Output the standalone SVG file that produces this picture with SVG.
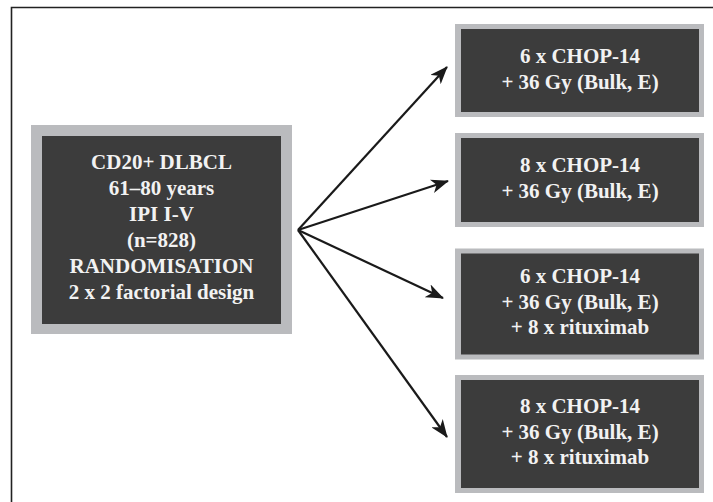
<svg xmlns="http://www.w3.org/2000/svg" width="713" height="502" viewBox="0 0 713 502">
<defs>
<style>
.outer{fill:#babbbe;}
.inner{fill:#3c3c3c;}
.t{font-family:"Liberation Serif","Times New Roman",serif;font-weight:bold;font-size:21px;fill:#f2f2f2;text-anchor:middle;}
.frame{stroke:#222;stroke-width:1.6;fill:none;}
.conn{stroke:#1a1a1a;stroke-width:2.2;fill:none;}
</style>
<marker id="ah" viewBox="0 0 18 14" refX="17" refY="7" markerWidth="18" markerHeight="14" markerUnits="userSpaceOnUse" orient="auto">
<path d="M0,0 L18,7 L0,14 L5,7 Z" fill="#1a1a1a"/>
</marker>
</defs>
<rect width="713" height="502" fill="#fff"/>
<path class="frame" d="M11.5,502 V7.5 H713"/>

<g id="start">
<rect class="outer" x="31" y="125" width="261" height="209"/>
<rect class="inner" x="42" y="136" width="239" height="188"/>
<text class="t" x="161.5" y="168.5">CD20+ DLBCL</text>
<text class="t" x="161.5" y="194.5">61–80 years</text>
<text class="t" x="161.5" y="220.5">IPI I-V</text>
<text class="t" x="161.5" y="246.5">(n=828)</text>
<text class="t" x="161.5" y="272.5">RANDOMISATION</text>
<text class="t" x="161.5" y="298.5">2 x 2 factorial design</text>
</g>

<g id="arm1">
<rect class="outer" x="455" y="24" width="249" height="93"/>
<rect class="inner" x="461" y="29" width="238" height="83"/>
<text class="t" x="580" y="62.5">6 x CHOP-14</text>
<text class="t" x="580" y="88.5">+ 36 Gy (Bulk, E)</text>
</g>

<g id="arm2">
<rect class="outer" x="455" y="133" width="249" height="94"/>
<rect class="inner" x="461" y="138" width="238" height="84"/>
<text class="t" x="580" y="172">8 x CHOP-14</text>
<text class="t" x="580" y="198">+ 36 Gy (Bulk, E)</text>
</g>

<g id="arm3">
<rect class="outer" x="455" y="248.5" width="249" height="111"/>
<rect class="inner" x="461" y="253.5" width="238" height="101"/>
<text class="t" x="580" y="283">6 x CHOP-14</text>
<text class="t" x="580" y="308.5">+ 36 Gy (Bulk, E)</text>
<text class="t" x="580" y="334">+ 8 x rituximab</text>
</g>

<g id="arm4">
<rect class="outer" x="455" y="375" width="249" height="118"/>
<rect class="inner" x="461" y="380" width="238" height="108"/>
<text class="t" x="580" y="413">8 x CHOP-14</text>
<text class="t" x="580" y="438.5">+ 36 Gy (Bulk, E)</text>
<text class="t" x="580" y="464">+ 8 x rituximab</text>
</g>

<g id="connectors">
<line class="conn" x1="298" y1="230" x2="447" y2="67" marker-end="url(#ah)"/>
<line class="conn" x1="298" y1="230" x2="448" y2="181" marker-end="url(#ah)"/>
<line class="conn" x1="298" y1="230" x2="443" y2="298" marker-end="url(#ah)"/>
<line class="conn" x1="298" y1="230" x2="447" y2="437" marker-end="url(#ah)"/>
</g>
</svg>
